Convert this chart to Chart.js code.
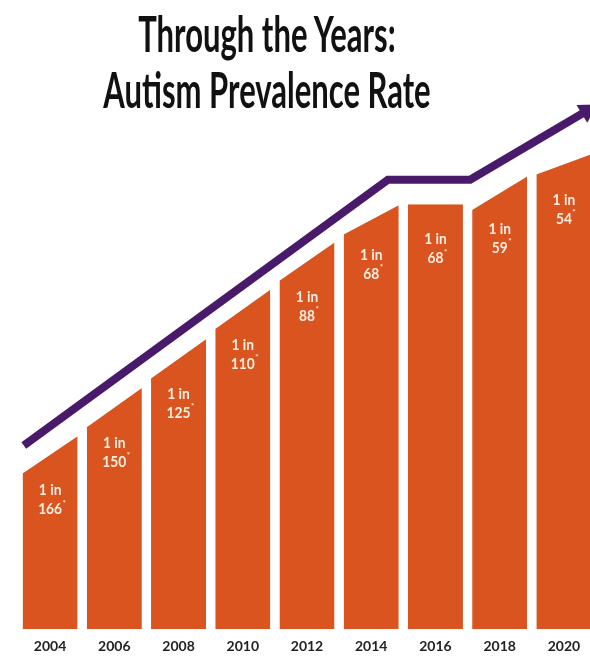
<!DOCTYPE html>
<html><head><meta charset="utf-8">
<script src="https://cdn.jsdelivr.net/npm/chart.js@4"></script>
<style>
html,body{margin:0;padding:0;background:#fff;overflow:hidden;width:590px;height:662px;}
#wrap{position:relative;width:596px;height:664px;}
#c{position:absolute;left:0;top:0;}
.t{position:absolute;left:0;width:534px;text-align:center;white-space:nowrap;font-family:Lato,'Open Sans',sans-serif;font-weight:700;font-size:50px;line-height:50px;color:#111;transform:scaleX(0.62);transform-origin:267px 0;z-index:2;}
</style></head>
<body>
<div id="wrap">
  <canvas id="c" width="596" height="664"></canvas>
  <div class="t" style="top:8px">Through the Years:</div>
  <div class="t" style="top:64px">Autism Prevalence Rate</div>
</div>
<script>
// ---- data ----
const years = ['2004','2006','2008','2010','2012','2014','2016','2018','2020'];
const rates = [166, 150, 125, 110, 88, 68, 68, 59, 54];           // "1 in N"
// visual bar heights (0-100 index): left and right edge of each sloped top
const topLeft  = [29.3, 38.0, 47.2, 56.5, 65.6, 74.3, 80.0, 78.9, 85.6];
const topRight = [36.3, 45.4, 54.6, 63.9, 72.8, 79.8, 80.0, 85.2, 89.4];
// trend arrow (x in category index units, y in the same 0-100 index)
const arrowX = [-0.41, 5.26, 6.54, 8.36];
const arrowY = [34.6, 84.6, 84.6, 97.6];

const ORANGE = '#d9541f';
const PURPLE = '#4a1a6a';

const slopedTops = {
  id: 'slopedTops',
  beforeDatasetDraw(chart, args) {
    if (args.index !== 0) return;
    const ctx = chart.ctx, y = chart.scales.y;
    ctx.save();
    ctx.beginPath();
    args.meta.data.forEach((bar, i) => {
      const l = bar.x - bar.width / 2, r = bar.x + bar.width / 2, b = bar.base;
      ctx.moveTo(l, b);
      ctx.lineTo(l, y.getPixelForValue(topLeft[i]));
      ctx.lineTo(r, y.getPixelForValue(topRight[i]));
      ctx.lineTo(r, b);
      ctx.closePath();
    });
    ctx.clip();
  },
  afterDatasetDraw(chart, args) {
    if (args.index !== 0) return;
    chart.ctx.restore();
  }
};

function condensedText(ctx, text, x, y, sx) {
  ctx.save();
  ctx.translate(x, y);
  ctx.scale(sx, 1);
  ctx.fillText(text, 0, 0);
  ctx.restore();
}

const barLabels = {
  id: 'barLabels',
  afterDatasetsDraw(chart) {
    const ctx = chart.ctx, y = chart.scales.y;
    const meta = chart.getDatasetMeta(0);
    ctx.save();
    ctx.fillStyle = '#fcefe2';
    ctx.textBaseline = 'middle';
    meta.data.forEach((bar, i) => {
      const top = y.getPixelForValue((topLeft[i] + topRight[i]) / 2);
      ctx.textAlign = 'center';
      ctx.font = 'bold 16px Lato';
      condensedText(ctx, '1 in', bar.x, top + 35, 0.86);
      const num = String(rates[i]);
      condensedText(ctx, num, bar.x, top + 54, 0.86);
      const w = ctx.measureText(num).width * 0.86;
      ctx.font = 'bold 8px Lato';
      ctx.textAlign = 'left';
      ctx.fillText('*', bar.x + w / 2 + 0.5, top + 48);
    });
    ctx.restore();
  }
};

new Chart(document.getElementById('c'), {
  type: 'bar',
  data: {
    labels: years,
    datasets: [
      {
        type: 'bar',
        data: topRight,
        backgroundColor: ORANGE,
        borderWidth: 0,
        grouped: false,
        barPercentage: 0.857,
        categoryPercentage: 1.0,
        order: 2
      },
      {
        type: 'line',
        xAxisID: 'x2',
        data: arrowX.map((x, i) => ({ x, y: arrowY[i] })),
        borderColor: PURPLE,
        borderWidth: 8,
        tension: 0,
        borderCapStyle: 'butt',
        borderJoinStyle: 'miter',
        pointRadius: [0, 0, 0, 12],
        pointStyle: 'triangle',
        rotation: 59,
        pointBackgroundColor: PURPLE,
        pointBorderColor: PURPLE,
        pointBorderWidth: 0,
        clip: false,
        order: 1
      }
    ]
  },
  options: {
    responsive: false,
    animation: false,
    layout: { autoPadding: false, padding: { left: 18, right: 0, top: 98, bottom: 0 } },
    plugins: { legend: { display: false }, tooltip: { enabled: false }, title: { display: false } },
    scales: {
      x: {
        type: 'category',
        offset: true,
        grid: { display: false, drawTicks: false },
        border: { display: false },
        ticks: { padding: 9, color: '#222', font: { family: 'Lato', weight: 'bold', size: 14, lineHeight: 1.2 } }
      },
      x2: { type: 'linear', min: -0.5, max: 8.5, offset: false, display: false },
      y: { min: 0, max: 100, display: false }
    }
  },
  plugins: [slopedTops, barLabels]
});
</script>
</body></html>
